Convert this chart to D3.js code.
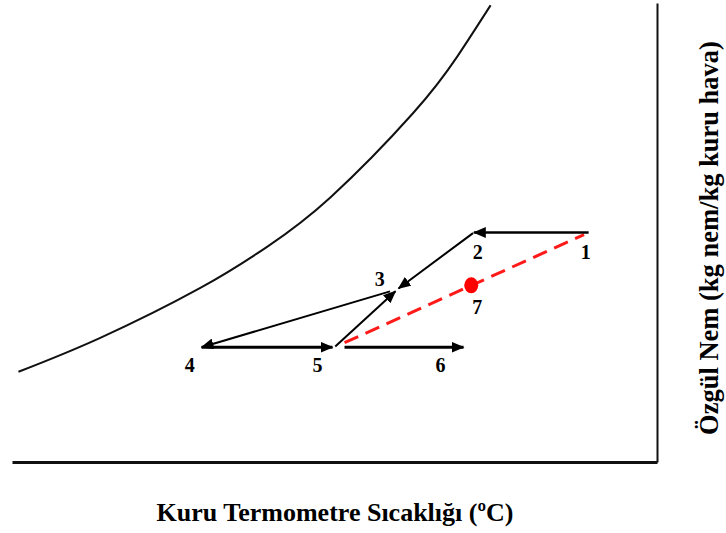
<!DOCTYPE html>
<html>
<head>
<meta charset="utf-8">
<script src="https://cdn.jsdelivr.net/npm/d3@7"></script>
<style>
  html, body { margin: 0; padding: 0; background: #fff; }
  svg { display: block; }
  text { font-family: "Liberation Serif", "Times New Roman", serif; font-weight: bold; fill: #000; }
</style>
</head>
<body>
<script>
// ---------- DATA ----------
// Saturation curve (dry-bulb temperature, specific humidity g/kg)
const curveT = [0.5, 6.8, 14.6, 19.8, 24.7, 31.1, 34.5, 37.1];
const curveW = [5.9, 8.1, 11.38, 14.08, 17.31, 22.81, 26.48, 29.85];

// State points
const stateNames = ["1", "2", "3", "4", "5", "6", "7"];
const stateT = [44.7, 35.8, 29.9, 14.7, 25.0, 35.0, 35.6];
const stateW = [15.0, 15.0, 11.3, 7.5, 7.5, 7.5, 11.55];

// Process arrows
const arrowFrom = ["1", "2", "3", "4", "5", "5"];
const arrowTo   = ["2", "3", "4", "5", "3", "6"];

// Mixing line (dashed)
const mixFrom = "5", mixTo = "1", mixPoint = "7";

const xTitle = "Kuru Termometre Sıcaklığı (ºC)";
const yTitle = "Özgül Nem (kg nem/kg kuru hava)";

// ---------- LAYOUT / STYLE ----------
const W = 726, H = 533;
const arrowStyle = {
  "1-2": { gap0: 0, gap1: 0, w: 2.5 },
  "2-3": { gap0: 1, gap1: 1, w: 2 },
  "3-4": { gap0: 8, gap1: 0, w: 2 },
  "4-5": { gap0: 0, gap1: 2, w: 3 },
  "5-3": { gap0: 1, gap1: 3, w: 2 },
  "5-6": { gap0: 10, gap1: 0, w: 3 }
};
const mixGap0 = 11, mixGap1 = 5;
const labelOffset = {
  "1": [-3, 26], "2": [4, 26], "3": [-18, -3], "4": [-12, 25],
  "5": [-17, 25], "6": [-23, 25], "7": [6, 29]
};

const svg = d3.select("body").append("svg").attr("width", W).attr("height", H);

const x = d3.scaleLinear().domain([0, 50]).range([12, 657]);
const y = d3.scaleLinear().domain([0, 30]).range([462, 3]);

// Axes (no ticks)
svg.append("g").attr("transform", `translate(0,${y(0)})`)
  .call(d3.axisBottom(x).tickValues([]).tickSizeOuter(0))
  .call(g => g.select(".domain").attr("stroke", "#111").attr("stroke-width", 3));
svg.append("g").attr("transform", `translate(${x(50)},0)`)
  .call(d3.axisRight(y).tickValues([]).tickSizeOuter(0))
  .call(g => g.select(".domain").attr("stroke", "#111").attr("stroke-width", 2));

// Saturation curve
const curveData = curveT.map((t, i) => [t, curveW[i]]);
svg.append("path")
  .datum(curveData)
  .attr("fill", "none").attr("stroke", "#111").attr("stroke-width", 2)
  .attr("d", d3.line().x(d => x(d[0])).y(d => y(d[1])).curve(d3.curveNatural));

// Arrow marker
const defs = svg.append("defs");
defs.append("marker")
  .attr("id", "ah").attr("viewBox", "0 0 13 11")
  .attr("refX", 12).attr("refY", 5.5)
  .attr("markerWidth", 13).attr("markerHeight", 11)
  .attr("markerUnits", "userSpaceOnUse").attr("orient", "auto")
  .append("path").attr("d", "M0,0 L13,5.5 L0,11 Z").attr("fill", "#000");

const pt = name => {
  const i = stateNames.indexOf(name);
  return [x(stateT[i]), y(stateW[i])];
};
function trimmed(a, b, g0, g1) {
  const dx = b[0] - a[0], dy = b[1] - a[1], L = Math.hypot(dx, dy);
  const ux = dx / L, uy = dy / L;
  return [[a[0] + ux * g0, a[1] + uy * g0], [b[0] - ux * g1, b[1] - uy * g1]];
}

// Dashed mixing line
{
  const [p, q] = trimmed(pt(mixFrom), pt(mixTo), mixGap0, mixGap1);
  svg.append("line")
    .attr("x1", p[0]).attr("y1", p[1]).attr("x2", q[0]).attr("y2", q[1])
    .attr("stroke", "#ff1a1a").attr("stroke-width", 3)
    .attr("stroke-dasharray", "15,8");
}

// Process arrows
arrowFrom.forEach((f, i) => {
  const t = arrowTo[i];
  const s = arrowStyle[f + "-" + t];
  const [p, q] = trimmed(pt(f), pt(t), s.gap0, s.gap1);
  svg.append("line")
    .attr("x1", p[0]).attr("y1", p[1]).attr("x2", q[0]).attr("y2", q[1])
    .attr("stroke", "#000").attr("stroke-width", s.w)
    .attr("marker-end", "url(#ah)");
});

// Mixed state dot
{
  const p = pt(mixPoint);
  svg.append("ellipse").attr("cx", p[0]).attr("cy", p[1])
    .attr("rx", 7).attr("ry", 8).attr("fill", "#ff0000");
}

// Labels
stateNames.forEach(n => {
  const p = pt(n), o = labelOffset[n];
  svg.append("text")
    .attr("x", p[0] + o[0]).attr("y", p[1] + o[1])
    .attr("text-anchor", "middle").attr("font-size", 20)
    .text(n);
});

// Axis titles
svg.append("text")
  .attr("x", 335).attr("y", 521)
  .attr("text-anchor", "middle").attr("font-size", 26)
  .text(xTitle);
svg.append("text")
  .attr("transform", `translate(718,238) rotate(-90)`)
  .attr("text-anchor", "middle").attr("font-size", 26.5)
  .text(yTitle);
</script>
</body>
</html>
